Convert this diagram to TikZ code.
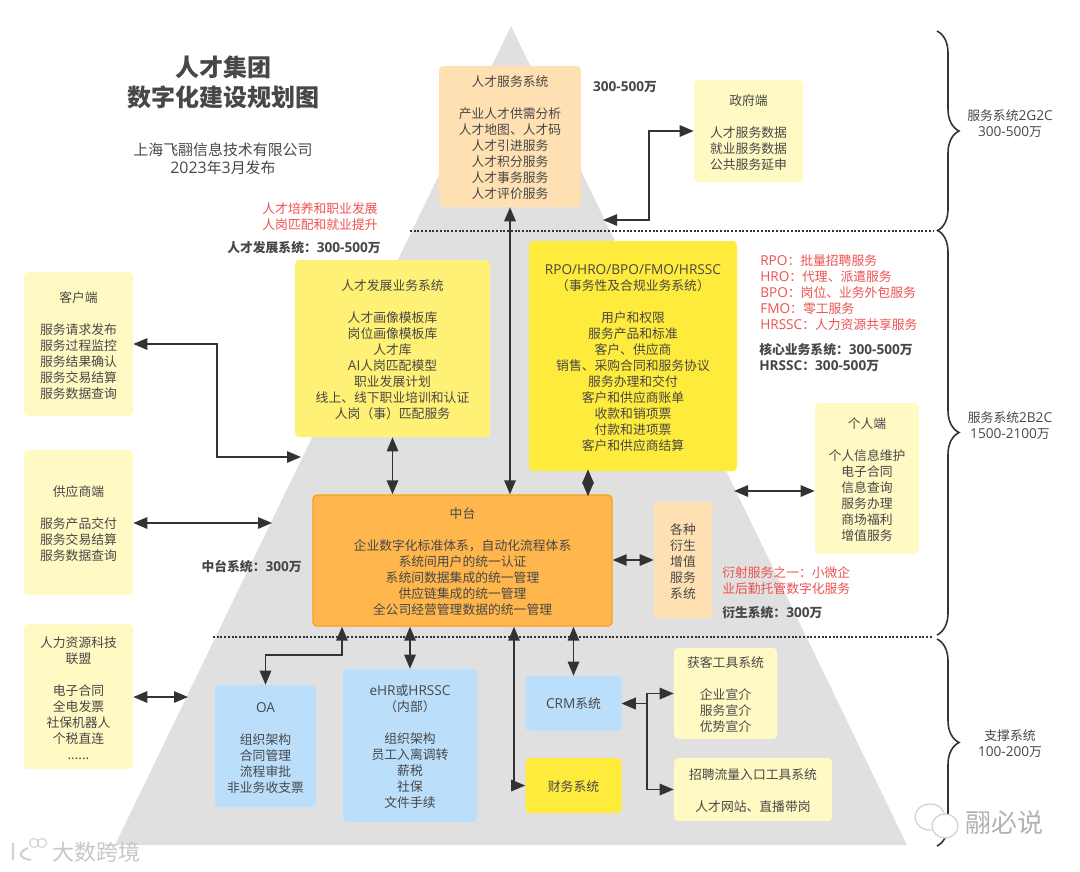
\documentclass[tikz,border=0pt]{standalone}
\usepackage{fontspec}
\setmainfont{Noto Sans CJK SC}
\newfontfamily\latinfont[Scale=1.065]{Open Sans}
\newcommand{\lat}[1]{{\latinfont #1}}
\newcommand{\topstrut}{\rule{0pt}{10.4pt}}
\usetikzlibrary{calc, positioning}
\usetikzlibrary{arrows.meta}
\usetikzlibrary{decorations.pathreplacing}

\definecolor{inktext}{HTML}{474747}
\definecolor{inkline}{HTML}{333333}
\definecolor{pyramidgray}{HTML}{E0E0E0}
\definecolor{paleyellow}{HTML}{FFF9C4}
\definecolor{softyellow}{HTML}{FFF176}
\definecolor{coreyellow}{HTML}{FFEB3B}
\definecolor{midorange}{HTML}{FFB74D}
\definecolor{midborder}{HTML}{F9A11B}
\definecolor{paleorange}{HTML}{FFE0B2}
\definecolor{paleblue}{HTML}{BBDEFB}
\definecolor{notered}{HTML}{EE5050}

\tikzset{
  wh/.style 2 args={minimum width=#1*0.75pt, minimum height=#2*0.75pt},
  sysbox/.style={rounded corners=3pt, inner sep=0pt, align=center, text=inktext,
    font=\fontsize{9.6}{12}\selectfont},
  sidebox/.style={sysbox, fill=paleyellow},
  devbox/.style={sysbox, fill=softyellow},
  corebox/.style={sysbox, fill=coreyellow},
  midbox/.style={sysbox, fill=midorange, draw=midborder, line width=1pt},
  extrabox/.style={sysbox, fill=paleorange},
  supportbox/.style={sysbox, fill=paleblue},
  note/.style={text=notered, inner sep=0pt, align=left, font=\fontsize{9.6}{12}\selectfont},
  cost/.style={text=inktext, inner sep=0pt, align=left, font=\fontsize{9.6}{12}\selectfont\bfseries},
  tierlabel/.style={text=inktext, inner sep=0pt, align=center, font=\fontsize{9.6}{12}\selectfont},
  link/.style={<->, inkline, line width=1.4pt},
  tierline/.style={inkline, line width=1.4pt, dash pattern=on 1.5pt off 1.3pt},
  tierbrace/.style={inkline, line width=1.2pt, decorate, decoration={brace, amplitude=16.5pt}},
  >={Triangle[length=10.5pt, width=8.5pt]}
}

\begin{document}
\begin{tikzpicture}[x=0.75pt, y=-0.75pt]
\useasboundingbox (0,0) rectangle (1080,871);

% pyramid and tier lines
\fill[pyramidgray] (511,26) -- (907,845) -- (115,845) -- cycle;
\draw[tierline] (410,231) -- (933,231);
\draw[tierline] (213,637) -- (933,637);

% title
\node[text=inktext, align=center, font=\fontsize{18}{22.5}\selectfont\bfseries] (title) at (223,82)
  {人才集团\\数字化建设规划图};
\node[tierlabel, font=\fontsize{11.2}{13.5}\selectfont] (issuer) at (223,159)
  {上海飞翮信息技术有限公司\\\lat{2023}年\lat{3}月发布};

% top tier
\node[extrabox, wh={142}{141}] (service) at (510,136.5)
  {\topstrut 人才服务系统\\ \\产业人才供需分析\\人才地图、人才码\\人才引进服务\\人才积分服务\\人才事务服务\\人才评价服务};
\node[sidebox, wh={109}{102}] (gov) at (748.5,131)
  {\topstrut 政府端\\ \\人才服务数据\\就业服务数据\\公共服务延申};
\node[cost] (servicecost) at (625,87) {\lat{300-500}万};

% core tier
\node[devbox, wh={195}{177}] (dev) at (392.5,348.5)
  {\topstrut 人才发展业务系统\\ \\人才画像模板库\\岗位画像模板库\\人才库\\\lat{AI}人岗匹配模型\\职业发展计划\\线上、线下职业培训和认证\\人岗（事）匹配服务};
\node[corebox, wh={208}{230}] (core) at (633,356)
  {\topstrut\lat{RPO/HRO/BPO/FMO/HRSSC}\\（事务性及合规业务系统）\\ \\用户和权限\\服务产品和标准\\客户、供应商\\销售、采购合同和服务协议\\服务办理和交付\\客户和供应商账单\\收款和销项票\\付款和进项票\\客户和供应商结算};
\node[midbox, wh={299}{131}] (mid) at (462.5,560.5)
  {\topstrut 中台\\ \\企业数字化标准体系，自动化流程体系\\系统间用户的统一认证\\系统间数据集成的统一管理\\供应链集成的统一管理\\全公司经营管理数据的统一管理};
\node[extrabox, wh={58}{116}] (extra) at (683,560)
  {\topstrut 各种\\衍生\\增值\\服务\\系统};

\node[sidebox, wh={109}{144}] (client) at (78.5,344)
  {\topstrut 客户端\\ \\服务请求发布\\服务过程监控\\服务结果确认\\服务交易结算\\服务数据查询};
\node[sidebox, wh={109}{145}] (supplier) at (78.5,522.5)
  {\topstrut 供应商端\\ \\服务产品交付\\服务交易结算\\服务数据查询};
\node[sidebox, wh={109}{145}] (alliance) at (78.5,696.5)
  {\topstrut 人力资源科技\\联盟\\ \\电子合同\\全电发票\\社保机器人\\个税直连\\\lat{......}};
\node[sidebox, wh={104}{151}] (person) at (867,478.5)
  {\topstrut 个人端\\ \\个人信息维护\\电子合同\\信息查询\\服务办理\\商场福利\\增值服务};

% support tier
\node[supportbox, wh={101}{122}] (oa) at (265.5,746)
  {\topstrut\lat{OA}\\ \\组织架构\\合同管理\\流程审批\\非业务收支票};
\node[supportbox, wh={134}{153}] (ehr) at (410,745.5)
  {\topstrut\lat{eHR}或\lat{HRSSC}\\（内部）\\ \\组织架构\\员工入离调转\\薪税\\社保\\文件手续};
\node[supportbox, wh={96}{55}] (crm) at (573.5,703.5) {\lat{CRM}系统};
\node[corebox, wh={96}{55}] (finance) at (573.5,785.5) {\topstrut 财务系统};
\node[sidebox, wh={103}{91}] (gain) at (725.5,693.5)
  {\topstrut 获客工具系统\\ \\企业宣介\\服务宣介\\优势宣介};
\node[sidebox, wh={158}{63}] (recruit) at (753,789.5)
  {\topstrut 招聘流量入口工具系统\\ \\人才网站、直播带岗};

% notes and costs
\node[note, align=center] (devnote) at (320,217) {人才培养和职业发展\\人岗匹配和就业提升};
\node[cost, anchor=east] (devcost) at (381,248) {人才发展系统：\lat{300-500}万};
\node[note, anchor=north west] (corenote) at (760,254.5)
  {\lat{RPO}：批量招聘服务\\\lat{HRO}：代理、派遣服务\\\lat{BPO}：岗位、业务外包服务\\\lat{FMO}：零工服务\\\lat{HRSSC}：人力资源共享服务};
\node[cost, anchor=north west] (corecost) at (759,343.5) {核心业务系统：\lat{300-500}万\\\lat{HRSSC}：\lat{300-500}万};
\node[cost, anchor=east] (midcost) at (302,567) {中台系统：\lat{300}万};
\node[note, anchor=north west] (extranote) at (722,566.5) {衍射服务之一：小微企\\业后勤托管数字化服务};
\node[cost, anchor=west] (extracost) at (722,613) {衍生系统：\lat{300}万};

% connectors
\coordinate (govend) at (603,220);
\coordinate (devend) at (301,457);
\coordinate (supend) at (272,523);
\coordinate (allend) at (188,697);
\coordinate (perend) at (734,491);
\coordinate (corex) at (588,0);
\coordinate (oax) at (342,655);
\coordinate (finx) at (514,0);
\coordinate (crmx) at (647,0);

\draw[link] (gov.west) -- ++(-45,0) |- (govend);
\draw[link] (service.south) -- (service.south |- mid.north);
\draw[link] (dev.south) -- (dev.south |- mid.north);
\draw[link, shorten <=-1.5pt, shorten >=-1.5pt] (core.south -| corex) -- (mid.north -| corex);
\draw[link] (client.east) -- ++(84,0) |- (devend);
\draw[link] (supplier.east |- supend) -- (supend);
\draw[link] (alliance.east |- allend) -- (allend);
\draw[link] (perend) -- (person.west |- perend);
\draw[link] (mid.east |- extra.west) -- (extra.west);
\draw[link] (oa.north) |- (oax) -- (oax |- mid.south);
\draw[link] (ehr.north) -- (ehr.north |- mid.south);
\draw[link] (crm.north) -- (crm.north |- mid.south);
\draw[link] (mid.south -| finx) |- (finance.west);
\draw[link] (crm.east) -- (crm.east -| crmx) |- (gain.west);
\draw[link] (crm.east) -- (crm.east -| crmx) |- (recruit.west);

% right braces
\draw[tierbrace] (937,31) -- (937,231);
\draw[tierbrace] (937,230) -- (937,635);
\draw[tierbrace] (937,639) -- (937,846);
\node[tierlabel] (tiertop) at (1010,124) {服务系统\lat{2G2C}\\\lat{300-500}万};
\node[tierlabel] (tiermid) at (1010,426) {服务系统\lat{2B2C}\\\lat{1500-2100}万};
\node[tierlabel] (tierlow) at (1010,743.5) {支撑系统\\\lat{100-200}万};

% watermarks
\draw[gray!40, fill=white, line width=0.8pt] (930,817) ellipse (15 and 13);
\draw[gray!40, fill=white, line width=0.8pt] (945,826) ellipse (13 and 12);
\node[text=gray!60, inner sep=0pt, font=\fontsize{19.5}{22}\selectfont] (markright) at (1004,823) {翮必说};
\draw[gray!35, fill=white, line width=0.8pt] (34,843) circle (4.5) (42,843) circle (4.5);
\draw[gray!35, line width=1.6pt] (13,843) -- (13,860) (28,848) .. controls (18,852) and (18,858) .. (31,860);
\node[text=gray!45, inner sep=0pt, font=\fontsize{16.5}{20}\selectfont] (markleft) at (96,852) {大数跨境};
\end{tikzpicture}
\end{document}
